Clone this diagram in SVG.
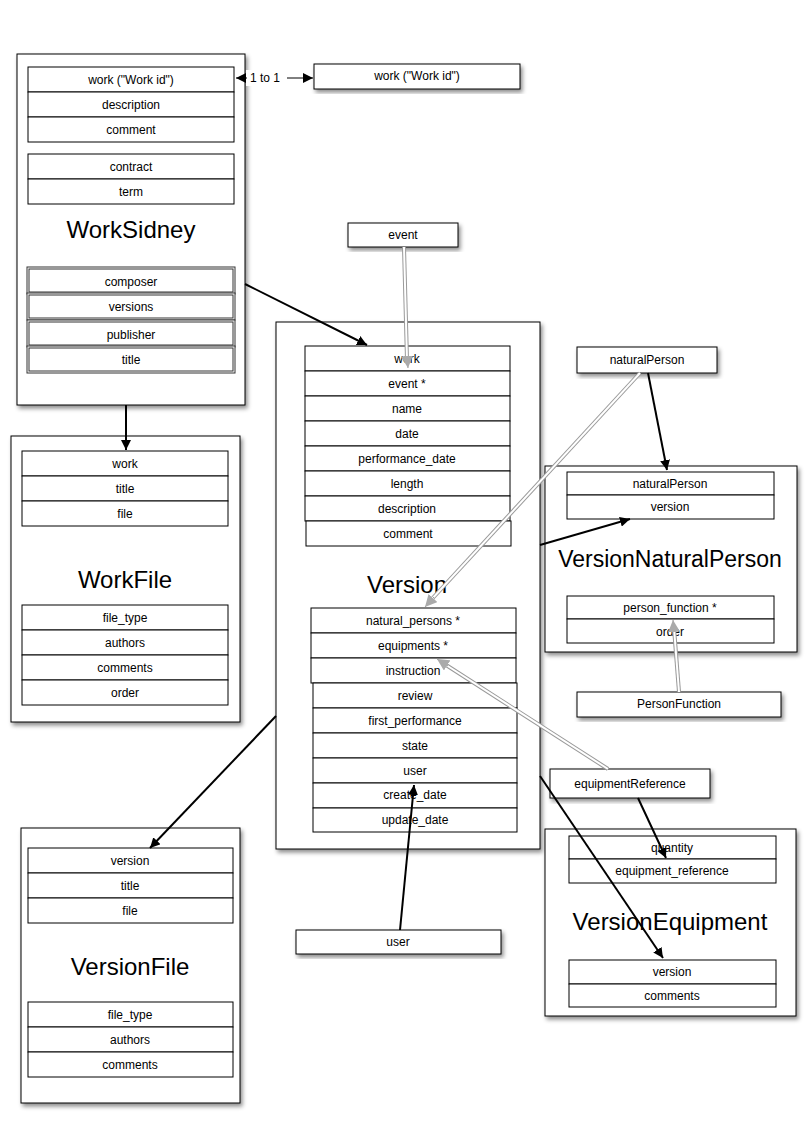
<svg xmlns="http://www.w3.org/2000/svg" width="806" height="1132" viewBox="0 0 806 1132">
<defs>
<filter id="sh" x="-10%" y="-10%" width="130%" height="130%">
<feDropShadow dx="2" dy="3" stdDeviation="2" flood-color="#000" flood-opacity="0.45"/>
</filter>
<marker id="ab" viewBox="0 0 10 10" refX="10" refY="5" markerWidth="10" markerHeight="10" markerUnits="userSpaceOnUse" orient="auto">
<path d="M0,0 L10,5 L0,10 z" fill="#000"/>
</marker>
<marker id="ag" viewBox="0 0 10 10" refX="10" refY="5" markerWidth="12" markerHeight="12" markerUnits="userSpaceOnUse" orient="auto">
<path d="M0,0 L10,5 L0,10 z" fill="#aaa"/>
</marker>
</defs>
<style>
.box{fill:#fff;stroke:#000;stroke-width:1}
.row{fill:#fff;stroke:#000;stroke-width:1}
.t{font-family:"Liberation Sans",Arial,sans-serif;font-size:12px;text-anchor:middle;fill:#000}
.big{font-family:"Liberation Sans",Arial,sans-serif;font-size:24px;text-anchor:middle;fill:#000}
.c{stroke:#000;stroke-width:2;fill:none}
.go{stroke:#999;stroke-width:4;fill:none}
.gi{stroke:#fff;stroke-width:2;fill:none}
.dbl{fill:#fff;stroke:#333;stroke-width:1}
</style>
<rect width="806" height="1132" fill="#fff"/>

<g id="WorkSidney">
<rect class="box" x="17" y="54" width="228" height="351" filter="url(#sh)"/>
<rect class="row" x="28" y="67" width="206" height="25"/><text class="t" x="131" y="84">work ("Work id")</text>
<rect class="row" x="28" y="92" width="206" height="25"/><text class="t" x="131" y="109">description</text>
<rect class="row" x="28" y="117" width="206" height="25"/><text class="t" x="131" y="134">comment</text>
<rect class="row" x="28" y="154" width="206" height="25"/><text class="t" x="131" y="171">contract</text>
<rect class="row" x="28" y="179" width="206" height="25"/><text class="t" x="131" y="196">term</text>
<text class="big" x="131" y="238">WorkSidney</text>
<rect class="dbl" x="27" y="267" width="208" height="27"/><rect class="dbl" x="29" y="269" width="204" height="23"/><text class="t" x="131" y="286">composer</text>
<rect class="dbl" x="27" y="293" width="208" height="27"/><rect class="dbl" x="29" y="295" width="204" height="23"/><text class="t" x="131" y="311">versions</text>
<rect class="dbl" x="27" y="320" width="208" height="27"/><rect class="dbl" x="29" y="322" width="204" height="23"/><text class="t" x="131" y="339">publisher</text>
<rect class="dbl" x="27" y="346" width="208" height="27"/><rect class="dbl" x="29" y="348" width="204" height="23"/><text class="t" x="131" y="364">title</text>
</g>

<g id="WorkId">
<rect class="box" x="314" y="64" width="206" height="25" filter="url(#sh)"/>
<text class="t" x="417" y="80">work ("Work id")</text>
</g>

<g id="WorkFile">
<rect class="box" x="11" y="436" width="229" height="286" filter="url(#sh)"/>
<rect class="row" x="22" y="451" width="206" height="25"/><text class="t" x="125" y="468">work</text>
<rect class="row" x="22" y="476" width="206" height="25"/><text class="t" x="125" y="493">title</text>
<rect class="row" x="22" y="501" width="206" height="25"/><text class="t" x="125" y="518">file</text>
<text class="big" x="125" y="588">WorkFile</text>
<rect class="row" x="22" y="605" width="206" height="25"/><text class="t" x="125" y="622">file_type</text>
<rect class="row" x="22" y="630" width="206" height="25"/><text class="t" x="125" y="647">authors</text>
<rect class="row" x="22" y="655" width="206" height="25"/><text class="t" x="125" y="672">comments</text>
<rect class="row" x="22" y="680" width="206" height="25"/><text class="t" x="125" y="697">order</text>
</g>

<g id="Event">
<rect class="box" x="348" y="223" width="110" height="24" filter="url(#sh)"/>
<text class="t" x="403" y="239">event</text>
</g>

<g id="Version">
<rect class="box" x="276" y="322" width="264" height="527" filter="url(#sh)"/>
<rect class="row" x="305" y="346" width="205" height="25"/><text class="t" x="407" y="363">work</text>
<rect class="row" x="305" y="371" width="205" height="25"/><text class="t" x="407" y="388">event *</text>
<rect class="row" x="305" y="396" width="205" height="25"/><text class="t" x="407" y="413">name</text>
<rect class="row" x="305" y="421" width="205" height="25"/><text class="t" x="407" y="438">date</text>
<rect class="row" x="305" y="446" width="205" height="25"/><text class="t" x="407" y="463">performance_date</text>
<rect class="row" x="305" y="471" width="205" height="25"/><text class="t" x="407" y="488">length</text>
<rect class="row" x="305" y="496" width="205" height="25"/><text class="t" x="407" y="513">description</text>
<rect class="row" x="306" y="521" width="205" height="25"/><text class="t" x="408" y="538">comment</text>
<text class="big" x="407" y="593">Version</text>
<rect class="row" x="311" y="608" width="205" height="25"/><text class="t" x="413" y="625">natural_persons *</text>
<rect class="row" x="311" y="633" width="205" height="25"/><text class="t" x="413" y="650">equipments *</text>
<rect class="row" x="311" y="658" width="205" height="25"/><text class="t" x="413" y="675">instruction</text>
<rect class="row" x="313" y="683" width="204" height="25"/><text class="t" x="415" y="700">review</text>
<rect class="row" x="313" y="708" width="204" height="25"/><text class="t" x="415" y="725">first_performance</text>
<rect class="row" x="313" y="733" width="204" height="25"/><text class="t" x="415" y="750">state</text>
<rect class="row" x="313" y="758" width="204" height="25"/><text class="t" x="415" y="775">user</text>
<rect class="row" x="313" y="783" width="204" height="25"/><text class="t" x="415" y="799">create_date</text>
<rect class="row" x="313" y="808" width="204" height="24"/><text class="t" x="415" y="824">update_date</text>
</g>

<g id="NaturalPerson">
<rect class="box" x="577" y="347" width="140" height="26" filter="url(#sh)"/>
<text class="t" x="647" y="364">naturalPerson</text>
</g>

<g id="VersionNaturalPerson">
<rect class="box" x="545" y="466" width="252" height="186" filter="url(#sh)"/>
<rect class="row" x="567" y="472" width="207" height="23"/><text class="t" x="670" y="488">naturalPerson</text>
<rect class="row" x="567" y="495" width="207" height="24"/><text class="t" x="670" y="511">version</text>
<text class="big" x="670" y="567" style="font-size:23px">VersionNaturalPerson</text>
<rect class="row" x="567" y="596" width="207" height="23"/><text class="t" x="670" y="612">person_function *</text>
<rect class="row" x="567" y="619" width="207" height="24"/><text class="t" x="670" y="636">order</text>
</g>

<g id="PersonFunction">
<rect class="box" x="577" y="692" width="204" height="25" filter="url(#sh)"/>
<text class="t" x="679" y="708">PersonFunction</text>
</g>

<g id="EquipmentReference">
<rect class="box" x="550" y="769" width="160" height="29" filter="url(#sh)"/>
<text class="t" x="630" y="788">equipmentReference</text>
</g>

<g id="VersionEquipment">
<rect class="box" x="545" y="829" width="251" height="187" filter="url(#sh)"/>
<rect class="row" x="569" y="836" width="207" height="23"/><text class="t" x="672" y="852">quantity</text>
<rect class="row" x="569" y="859" width="207" height="24"/><text class="t" x="672" y="875">equipment_reference</text>
<text class="big" x="670" y="930">VersionEquipment</text>
<rect class="row" x="569" y="960" width="207" height="24"/><text class="t" x="672" y="976">version</text>
<rect class="row" x="569" y="984" width="207" height="23"/><text class="t" x="672" y="1000">comments</text>
</g>

<g id="User">
<rect class="box" x="296" y="930" width="205" height="24" filter="url(#sh)"/>
<text class="t" x="398" y="946">user</text>
</g>

<g id="VersionFile">
<rect class="box" x="21" y="828" width="219" height="275" filter="url(#sh)"/>
<rect class="row" x="28" y="848" width="205" height="25"/><text class="t" x="130" y="865">version</text>
<rect class="row" x="28" y="873" width="205" height="25"/><text class="t" x="130" y="890">title</text>
<rect class="row" x="28" y="898" width="205" height="25"/><text class="t" x="130" y="915">file</text>
<text class="big" x="130" y="975">VersionFile</text>
<rect class="row" x="28" y="1002" width="205" height="25"/><text class="t" x="130" y="1019">file_type</text>
<rect class="row" x="28" y="1027" width="205" height="25"/><text class="t" x="130" y="1044">authors</text>
<rect class="row" x="28" y="1052" width="205" height="25"/><text class="t" x="130" y="1069">comments</text>
</g>

<g id="connectors">
<!-- 1 to 1 -->
<rect x="246" y="70" width="40" height="16" fill="#fff"/>
<line x1="247" y1="78" x2="236" y2="78" stroke="#000" stroke-width="1" marker-end="url(#ab)"/>
<text class="t" x="265" y="82">1 to 1</text>
<line x1="287" y1="78" x2="313" y2="78" stroke="#000" stroke-width="1" marker-end="url(#ab)"/>
<!-- WorkSidney to Version -->
<line class="c" x1="245" y1="284" x2="367" y2="345" marker-end="url(#ab)"/>
<!-- WorkSidney to WorkFile -->
<line class="c" x1="126" y1="405" x2="126" y2="450" marker-end="url(#ab)"/>
<!-- event to work (gray) -->
<line class="go" x1="404" y1="247" x2="407" y2="360"/>
<line class="gi" x1="404" y1="247" x2="407" y2="360"/>
<line x1="407" y1="356" x2="408" y2="368" stroke="#999" stroke-width="1" marker-end="url(#ag)"/>
<!-- naturalPerson to natural_persons (gray) -->
<line class="go" x1="640" y1="373" x2="431" y2="600"/>
<line class="gi" x1="640" y1="373" x2="431" y2="600"/>
<line x1="434" y1="597" x2="425" y2="607" stroke="#999" stroke-width="1" marker-end="url(#ag)"/>
<!-- equipmentReference to equipments (gray) -->
<line class="go" x1="608" y1="769" x2="443" y2="663"/>
<line class="gi" x1="608" y1="769" x2="443" y2="663"/>
<line x1="448" y1="666" x2="437" y2="659" stroke="#999" stroke-width="1" marker-end="url(#ag)"/>
<!-- naturalPerson to VersionNaturalPerson -->
<line class="c" x1="648" y1="373" x2="667" y2="470" marker-end="url(#ab)"/>
<!-- Version to VNP version -->
<line class="c" x1="540" y1="545" x2="630" y2="519" marker-end="url(#ab)"/>
<!-- PersonFunction to person_function (gray) -->
<line class="go" x1="679" y1="692" x2="674" y2="628"/>
<line class="gi" x1="679" y1="692" x2="674" y2="628"/>
<line x1="674" y1="632" x2="673" y2="620" stroke="#999" stroke-width="1" marker-end="url(#ag)"/>
<!-- equipmentReference to quantity -->
<line class="c" x1="638" y1="798" x2="666" y2="858" marker-end="url(#ab)"/>
<!-- Version to VersionEquipment version -->
<line class="c" x1="540" y1="776" x2="663" y2="958" marker-end="url(#ab)"/>
<!-- Version to VersionFile -->
<line class="c" x1="276" y1="716" x2="150" y2="848" marker-end="url(#ab)"/>
<!-- user to user row -->
<line class="c" x1="400" y1="930" x2="414" y2="785" marker-end="url(#ab)"/>
</g>
</svg>
